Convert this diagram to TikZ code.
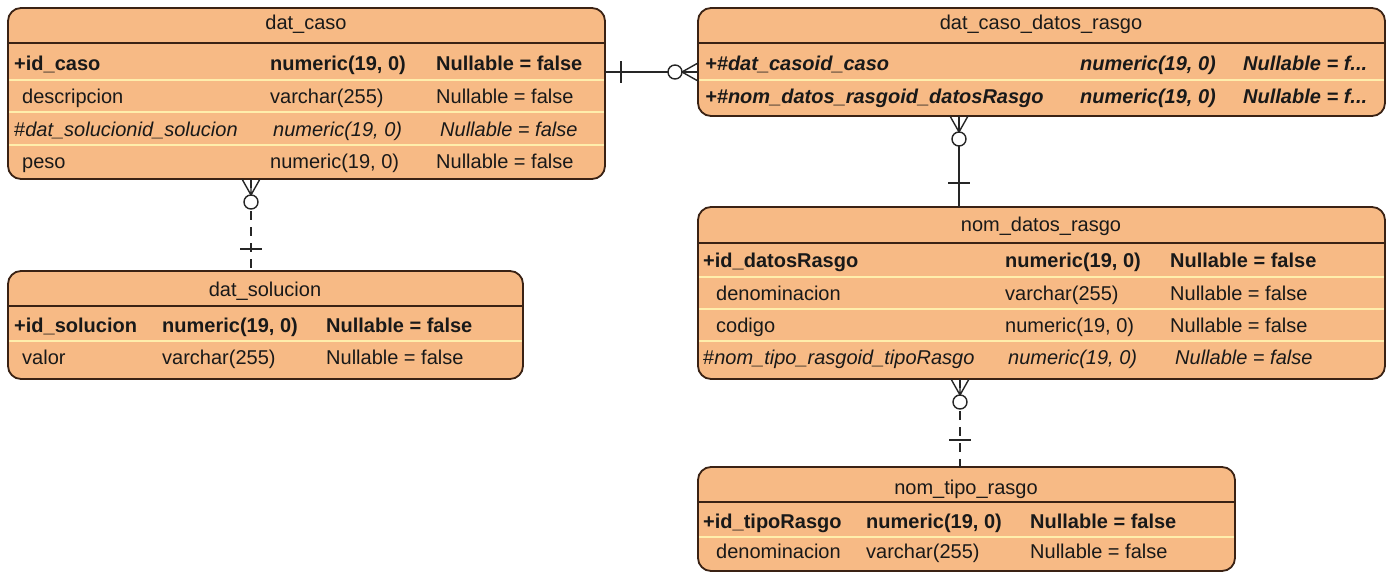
\documentclass[tikz,border=0pt]{standalone}
\usepackage{fontspec}
\setmainfont{Liberation Sans}
\usetikzlibrary{calc}

\definecolor{tabfill}{RGB}{247,186,133}
\definecolor{tabdraw}{RGB}{58,34,20}
\definecolor{rowsep}{RGB}{255,238,172}

\tikzset{
  table/.style={draw=tabdraw,line width=1.8pt,fill=tabfill,rounded corners=13pt,
    inner sep=0pt,outer sep=0pt,anchor=north west},
  titleline/.style={draw=tabdraw,line width=1.6pt},
  rowline/.style={draw=rowsep,line width=1.6pt},
  cell/.style={anchor=base west,inner sep=0pt,text=black!90,font=\fontsize{20}{24}\selectfont},
  ttl/.style={anchor=base,inner sep=0pt,text=black!90,font=\fontsize{20}{24}\selectfont},
  link/.style={line width=1.4pt,draw=black!85},
  weak/.style={link,dash pattern=on 9pt off 7pt},
  zeromany/.pic={
    \draw[line width=1.4pt,black!85] (-16,0) -- (0,-9) (-16,0) -- (0,0) (-16,0) -- (0,9);
    \draw[line width=1.4pt,black!85,fill=white] (-23,0) circle (7);
  },
  one/.pic={\draw[line width=1.4pt,black!85] (0,-11) -- (0,11);}
}

\begin{document}
\begin{tikzpicture}[x=1pt,y=-1pt]
\useasboundingbox (0,0) rectangle (1393,573);

% tables
\node[table,minimum width=597pt,minimum height=171pt] (caso) at (8,8) {};
\node[table,minimum width=687pt,minimum height=108pt] (casorasgo) at (698,8) {};
\node[table,minimum width=687pt,minimum height=172pt] (datosrasgo) at (698,207) {};
\node[table,minimum width=515pt,minimum height=108pt] (solucion) at (8,271) {};
\node[table,minimum width=537pt,minimum height=104pt] (tiporasgo) at (698,467) {};

% title and row lines
\draw[titleline] (8,43) -- (605,43);
\foreach \y in {80,112,145} \draw[rowline] (9,\y) -- (604,\y);
\draw[titleline] (698,43) -- (1385,43);
\draw[rowline] (699,80) -- (1384,80);
\draw[titleline] (698,243) -- (1385,243);
\foreach \y in {277,309,341} \draw[rowline] (699,\y) -- (1384,\y);
\draw[titleline] (8,306) -- (523,306);
\draw[rowline] (9,341) -- (522,341);
\draw[titleline] (698,502) -- (1235,502);
\draw[rowline] (699,537) -- (1234,537);

% dat_caso
\node[ttl] (caso-title) at (306,29) {dat\_caso};
\node[cell] (caso-n1) at (14,70) {\textbf{+id\_caso}};
\node[cell] (caso-t1) at (270,70) {\textbf{numeric(19, 0)}};
\node[cell] (caso-u1) at (436,70) {\textbf{Nullable = false}};
\node[cell] (caso-n2) at (22,103) {descripcion};
\node[cell] (caso-t2) at (270,103) {varchar(255)};
\node[cell] (caso-u2) at (436,103) {Nullable = false};
\node[cell] (caso-n3) at (14,136) {\#\textit{dat\_solucionid\_solucion}};
\node[cell] (caso-t3) at (273,136) {\textit{numeric(19, 0)}};
\node[cell] (caso-u3) at (440,136) {\textit{Nullable = false}};
\node[cell] (caso-n4) at (22,168) {peso};
\node[cell] (caso-t4) at (270,168) {numeric(19, 0)};
\node[cell] (caso-u4) at (436,168) {Nullable = false};

% dat_caso_datos_rasgo
\node[ttl] (casorasgo-title) at (1041,29) {dat\_caso\_datos\_rasgo};
\node[cell] (casorasgo-n1) at (705,70) {\textbf{\textit{+\#dat\_casoid\_caso}}};
\node[cell] (casorasgo-t1) at (1080,70) {\textbf{\textit{numeric(19, 0)}}};
\node[cell] (casorasgo-u1) at (1243,70) {\textbf{\textit{Nullable = f...}}};
\node[cell] (casorasgo-n2) at (705,103) {\textbf{\textit{+\#nom\_datos\_rasgoid\_datosRasgo}}};
\node[cell] (casorasgo-t2) at (1080,103) {\textbf{\textit{numeric(19, 0)}}};
\node[cell] (casorasgo-u2) at (1243,103) {\textbf{\textit{Nullable = f...}}};

% nom_datos_rasgo
\node[ttl] (datosrasgo-title) at (1041,231) {nom\_datos\_rasgo};
\node[cell] (datosrasgo-n1) at (703,267) {\textbf{+id\_datosRasgo}};
\node[cell] (datosrasgo-t1) at (1005,267) {\textbf{numeric(19, 0)}};
\node[cell] (datosrasgo-u1) at (1170,267) {\textbf{Nullable = false}};
\node[cell] (datosrasgo-n2) at (716,300) {denominacion};
\node[cell] (datosrasgo-t2) at (1005,300) {varchar(255)};
\node[cell] (datosrasgo-u2) at (1170,300) {Nullable = false};
\node[cell] (datosrasgo-n3) at (716,332) {codigo};
\node[cell] (datosrasgo-t3) at (1005,332) {numeric(19, 0)};
\node[cell] (datosrasgo-u3) at (1170,332) {Nullable = false};
\node[cell] (datosrasgo-n4) at (703,364) {\#\textit{nom\_tipo\_rasgoid\_tipoRasgo}};
\node[cell] (datosrasgo-t4) at (1008,364) {\textit{numeric(19, 0)}};
\node[cell] (datosrasgo-u4) at (1175,364) {\textit{Nullable = false}};

% dat_solucion
\node[ttl] (solucion-title) at (265,296) {dat\_solucion};
\node[cell] (solucion-n1) at (14,332) {\textbf{+id\_solucion}};
\node[cell] (solucion-t1) at (162,332) {\textbf{numeric(19, 0)}};
\node[cell] (solucion-u1) at (326,332) {\textbf{Nullable = false}};
\node[cell] (solucion-n2) at (22,364) {valor};
\node[cell] (solucion-t2) at (162,364) {varchar(255)};
\node[cell] (solucion-u2) at (326,364) {Nullable = false};

% nom_tipo_rasgo
\node[ttl] (tiporasgo-title) at (966,494) {nom\_tipo\_rasgo};
\node[cell] (tiporasgo-n1) at (703,528) {\textbf{+id\_tipoRasgo}};
\node[cell] (tiporasgo-t1) at (866,528) {\textbf{numeric(19, 0)}};
\node[cell] (tiporasgo-u1) at (1030,528) {\textbf{Nullable = false}};
\node[cell] (tiporasgo-n2) at (716,558) {denominacion};
\node[cell] (tiporasgo-t2) at (866,558) {varchar(255)};
\node[cell] (tiporasgo-u2) at (1030,558) {Nullable = false};

% relations
\coordinate (c1) at ($(caso.north east)+(0,64)$);
\coordinate (c2) at (c1 -| casorasgo.west);
\draw[link] (c1) -- (c2);
\pic at ($(c1)+(16,0)$) {one};
\pic at (c2) {zeromany};

\coordinate (c3) at ($(casorasgo.south west)+(261,0)$);
\coordinate (c4) at (c3 |- datosrasgo.north);
\draw[link] (c3) -- (c4);
\pic[rotate=90] at (c3) {zeromany};
\pic[rotate=90] at ($(c4)+(0,-24)$) {one};

\coordinate (c5) at ($(caso.south west)+(243,0)$);
\coordinate (c6) at (c5 |- solucion.north);
\draw[weak] (c5) -- (c6);
\pic[rotate=90] at (c5) {zeromany};
\pic[rotate=90] at ($(c6)+(0,-22)$) {one};

\coordinate (c7) at ($(datosrasgo.south west)+(262,0)$);
\coordinate (c8) at (c7 |- tiporasgo.north);
\draw[weak] (c7) -- (c8);
\pic[rotate=90] at (c7) {zeromany};
\pic[rotate=90] at ($(c8)+(0,-27)$) {one};
\end{tikzpicture}
\end{document}
